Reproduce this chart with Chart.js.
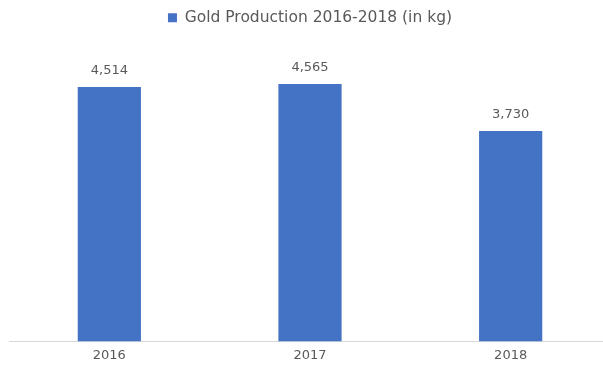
<!DOCTYPE html>
<html>
<head>
<meta charset="utf-8">
<script src="https://cdn.jsdelivr.net/npm/chart.js@4"></script>
<style>
  html, body { margin: 0; padding: 0; background: #fff; overflow: hidden; }
  #wrap { width: 611px; height: 370px; }
</style>
</head>
<body>
<div id="wrap"><canvas id="gold_chart"></canvas></div>
<script>
const years = ['2016', '2017', '2018']
const production = [4514, 4565, 3730]
const seriesName = 'Gold Production 2016-2018 (in kg)'

const textColor = '#595959'
const fontFamily = "'DejaVu Sans', sans-serif"

// draws the number above each bar
const valueLabels = {
    id: 'valueLabels',
    afterDatasetsDraw(chart) {
        const ctx = chart.ctx
        const meta = chart.getDatasetMeta(0)
        ctx.save()
        ctx.fillStyle = textColor
        ctx.font = '13px ' + fontFamily
        ctx.textAlign = 'center'
        ctx.textBaseline = 'bottom'
        meta.data.forEach((bar, i) => {
            ctx.fillText(production[i].toLocaleString('en-US'), bar.x, bar.y - 10)
        })
        ctx.restore()
    }
}

// extra room under the legend
const legendSpacing = {
    id: 'legendSpacing',
    beforeInit(chart) {
        const origFit = chart.legend.fit
        chart.legend.fit = function () {
            origFit.bind(chart.legend)()
            this.height += 24
        }
    }
}

const ctx = document.getElementById('gold_chart').getContext('2d')
const goldChart = new Chart(ctx, {
    type: 'bar',
    data: {
        labels: years,
        datasets: [{
            label: seriesName,
            data: production,
            backgroundColor: '#4472C4',
            barPercentage: 0.63,
            categoryPercentage: 0.5
        }]
    },
    options: {
        responsive: true,
        maintainAspectRatio: false,
        animation: false,
        layout: { padding: { left: 9, right: 0, top: 0, bottom: 1 } },
        plugins: {
            legend: {
                position: 'top',
                labels: {
                    boxWidth: 9,
                    boxHeight: 9,
                    color: textColor,
                    font: { family: fontFamily, size: 15.5 },
                    padding: 10
                }
            },
            tooltip: { enabled: false }
        },
        scales: {
            x: {
                grid: { display: false, drawTicks: false },
                border: { color: '#d9d9d9' },
                ticks: { color: textColor, font: { family: fontFamily, size: 13 }, padding: 6 }
            },
            y: {
                display: false,
                min: 0,
                max: 5000
            }
        }
    },
    plugins: [valueLabels, legendSpacing]
})
</script>
</body>
</html>
